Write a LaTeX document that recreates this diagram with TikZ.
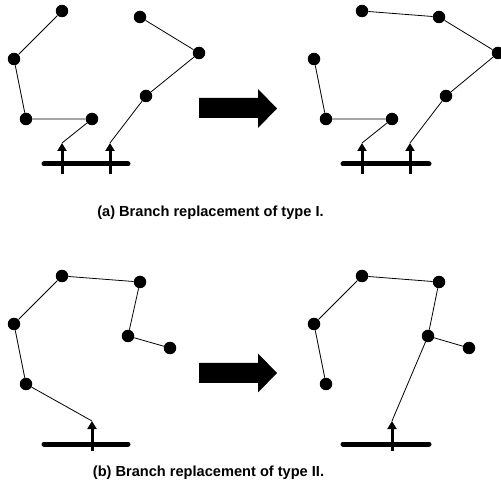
\documentclass[tikz,border=0pt]{standalone}
\usepackage{fontspec}
\setmainfont{Liberation Sans}
\usetikzlibrary{arrows.meta}
\begin{document}
\begin{tikzpicture}[x=1pt,y=-1pt,
  dot/.style={circle,fill=black,inner sep=0pt,minimum size=12.5pt},
  link/.style={line width=0.8pt},
  shaft/.style={line width=3pt,-{Triangle[length=8pt,width=9pt]}},
  bar/.style={line width=5pt,line cap=round},
  bigarrow/.style={fill=black},
  caption/.style={font=\bfseries\fontsize{14.6}{17}\selectfont,inner sep=0pt}]
\useasboundingbox (0,0) rectangle (501,486);

% ---------- (a) left ----------
\node[dot] (a1) at (62,11) {};
\node[dot] (a2) at (14,59) {};
\node[dot] (a3) at (26,119) {};
\node[dot] (a4) at (92,119) {};
\node[dot] (b1) at (140,17) {};
\node[dot] (b2) at (199,53) {};
\node[dot] (b3) at (146,96) {};
\coordinate (at1) at (62,143);
\coordinate (at2) at (110,143);
\coordinate (ab1) at (62,174);
\coordinate (ab2) at (110,174);
\coordinate (abarL) at (44,164);
\coordinate (abarR) at (128,164);
\draw[link] (a1) -- (a2) -- (a3) -- (a4) -- (at1);
\draw[link] (b1) -- (b2) -- (b3) -- (at2);
\draw[bar] (abarL) -- (abarR);
\draw[shaft] (ab1) -- (at1);
\draw[shaft] (ab2) -- (at2);

% big arrow (a)
\fill[bigarrow] (199,98) -- (258,98) -- (258,89) -- (277,108.5) -- (258,128) -- (258,118) -- (199,118) -- cycle;

% ---------- (a) right ----------
\node[dot] (c1) at (362,11) {};
\node[dot] (c2) at (439,17) {};
\node[dot] (c3) at (498,53) {};
\node[dot] (c4) at (446,96) {};
\node[dot] (d1) at (314,59) {};
\node[dot] (d2) at (326,119) {};
\node[dot] (d3) at (392,119) {};
\coordinate (ct1) at (362,143);
\coordinate (ct2) at (410,143);
\coordinate (cb1) at (362,174);
\coordinate (cb2) at (410,174);
\coordinate (cbarL) at (343,164);
\coordinate (cbarR) at (429,164);
\draw[link] (c1) -- (c2) -- (c3) -- (c4) -- (ct2);
\draw[link] (d1) -- (d2) -- (d3) -- (ct1);
\draw[bar] (cbarL) -- (cbarR);
\draw[shaft] (cb1) -- (ct1);
\draw[shaft] (cb2) -- (ct2);

\node[caption] (capa) at (210.5,213) {(a) Branch replacement of type I.};

% ---------- (b) left ----------
\node[dot] (e1) at (62,276) {};
\node[dot] (e2) at (140,282) {};
\node[dot] (e3) at (128,336) {};
\node[dot] (e4) at (170,348) {};
\node[dot] (f1) at (14,324) {};
\node[dot] (f2) at (26,384) {};
\coordinate (et) at (92,421);
\coordinate (eb) at (92,451);
\coordinate (ebarL) at (44,444);
\coordinate (ebarR) at (128,444);
\draw[link] (f2) -- (f1) -- (e1) -- (e2) -- (e3) -- (e4);
\draw[link] (f2) -- (et);
\draw[bar] (ebarL) -- (ebarR);
\draw[shaft] (eb) -- (et);

% big arrow (b)
\fill[bigarrow] (199,363) -- (258,363) -- (258,353.5) -- (277,373) -- (258,392.5) -- (258,383) -- (199,383) -- cycle;

% ---------- (b) right ----------
\node[dot] (g1) at (362,276) {};
\node[dot] (g2) at (439,282) {};
\node[dot] (g3) at (428,336) {};
\node[dot] (g4) at (469,348) {};
\node[dot] (h1) at (314,324) {};
\node[dot] (h2) at (326,384) {};
\coordinate (gt) at (392,421);
\coordinate (gb) at (392,451);
\coordinate (gbarL) at (343,444);
\coordinate (gbarR) at (429,444);
\draw[link] (h2) -- (h1) -- (g1) -- (g2) -- (g3) -- (g4);
\draw[link] (g3) -- (gt);
\draw[bar] (gbarL) -- (gbarR);
\draw[shaft] (gb) -- (gt);

\node[caption] (capb) at (208.5,473) {(b) Branch replacement of type II.};
\end{tikzpicture}
\end{document}
